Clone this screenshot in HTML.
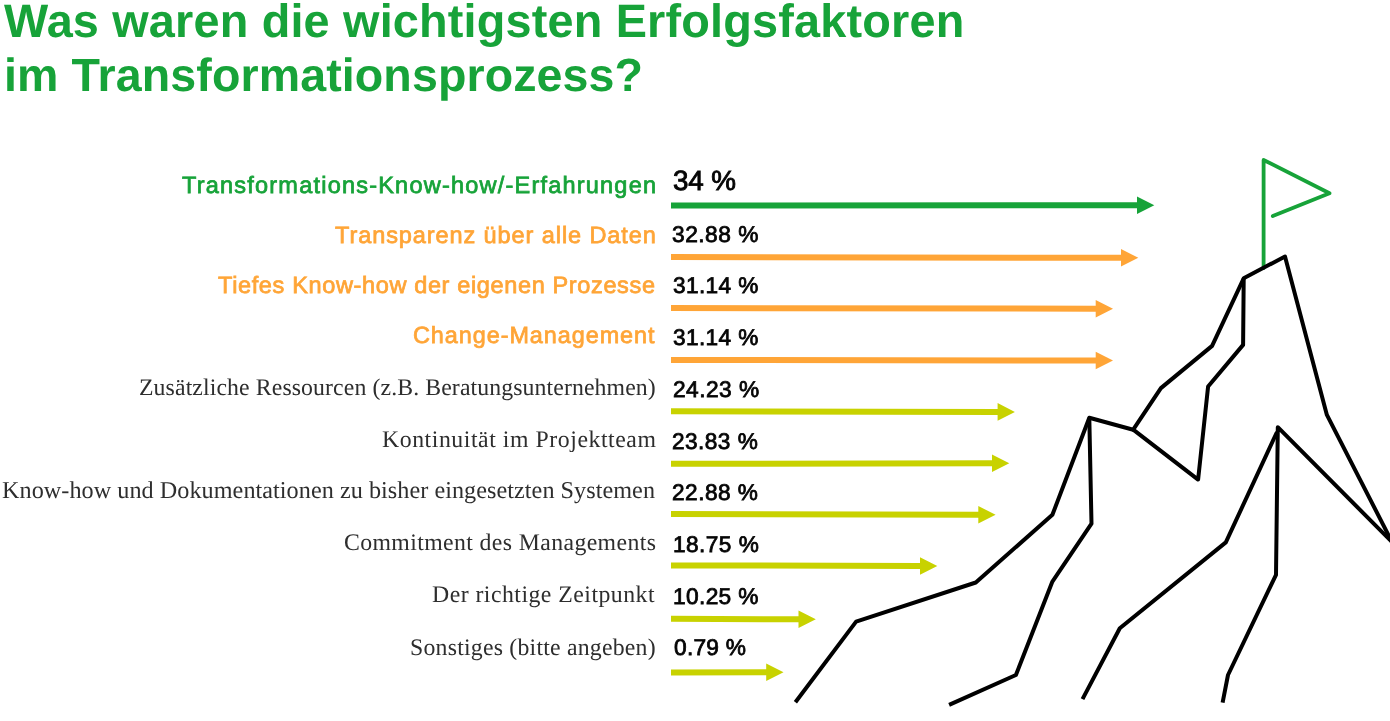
<!DOCTYPE html>
<html><head><meta charset="utf-8"><style>
html,body{margin:0;padding:0;background:#fff;width:1390px;height:721px;overflow:hidden}
.t{position:absolute;white-space:nowrap;line-height:1;transform-origin:0 0;text-rendering:geometricPrecision;will-change:transform}
svg{position:absolute;left:0;top:0}
</style></head><body>
<svg width="1390" height="721" viewBox="0 0 1390 721">
<path fill="#17a339" d="M671.0,202.50 L1137.00,202.30 L1137.00,196.50 L1154.30,205.30 L1137.00,214.10 L1137.00,208.30 L671.0,208.50 Z"/>
<path fill="#ffa537" d="M671.0,254.10 L1121.00,254.80 L1121.00,249.00 L1138.30,257.80 L1121.00,266.60 L1121.00,260.80 L671.0,260.10 Z"/>
<path fill="#ffa537" d="M671.0,305.00 L1095.70,305.70 L1095.70,299.90 L1113.00,308.70 L1095.70,317.50 L1095.70,311.70 L671.0,311.00 Z"/>
<path fill="#ffa537" d="M671.0,357.00 L1095.70,357.50 L1095.70,351.70 L1113.00,360.50 L1095.70,369.30 L1095.70,363.50 L671.0,363.00 Z"/>
<path fill="#c8d200" d="M671.0,408.30 L997.60,408.90 L997.60,403.10 L1014.90,411.90 L997.60,420.70 L997.60,414.90 L671.0,414.30 Z"/>
<path fill="#c8d200" d="M671.0,460.80 L992.00,460.20 L992.00,454.40 L1009.30,463.20 L992.00,472.00 L992.00,466.20 L671.0,466.80 Z"/>
<path fill="#c8d200" d="M671.0,510.90 L978.30,511.80 L978.30,506.00 L995.60,514.80 L978.30,523.60 L978.30,517.80 L671.0,516.90 Z"/>
<path fill="#c8d200" d="M671.0,562.40 L920.00,563.00 L920.00,557.20 L937.30,566.00 L920.00,574.80 L920.00,569.00 L671.0,568.40 Z"/>
<path fill="#c8d200" d="M671.0,615.70 L798.50,616.30 L798.50,610.50 L815.80,619.30 L798.50,628.10 L798.50,622.30 L671.0,621.70 Z"/>
<path fill="#c8d200" d="M671.0,669.60 L766.20,669.20 L766.20,663.40 L783.50,672.20 L766.20,681.00 L766.20,675.20 L671.0,675.60 Z"/>
<polyline fill="none" stroke="#17a339" stroke-width="3.8" stroke-linejoin="round" stroke-linecap="round" points="1263.6,268 1263.6,160 1329.5,193.3 1272.8,216.1"/>
<polyline fill="none" stroke="#000" stroke-width="4" stroke-linejoin="round" stroke-linecap="butt" points="795.4,702.2 856.1,621.6 975.8,582.5 1052.4,514.8 1089.3,417.8 1133.2,429.7 1160.9,388.1 1212.1,345.9 1243.7,278.3 1285,256.5 1326.9,414.9 1392,542"/>
<polyline fill="none" stroke="#000" stroke-width="4" stroke-linejoin="round" stroke-linecap="butt" points="1243.7,278.3 1243.1,344.9 1208.1,386.5 1198.1,479.6 1133.2,429.7"/>
<polyline fill="none" stroke="#000" stroke-width="4" stroke-linejoin="round" stroke-linecap="butt" points="1089.3,417.8 1091.5,523.7 1052.4,581.6 1015.9,675 949.1,704.9"/>
<polyline fill="none" stroke="#000" stroke-width="4" stroke-linejoin="round" stroke-linecap="butt" points="1082.5,699.1 1119.8,628.3 1225.8,542.4 1277,432"/>
<polyline fill="none" stroke="#000" stroke-width="4" stroke-linejoin="round" stroke-linecap="butt" points="1222.6,702.6 1228,675 1276,574.9 1277.8,427.2 1392,542"/>
</svg>
<div class="t" style="left:4.30px;top:-2.20px;font-family:'Liberation Sans',sans-serif;font-weight:700;font-size:46.84px;color:#17a339;letter-spacing:0.175px;">Was waren die wichtigsten Erfolgsfaktoren</div>
<div class="t" style="left:3.90px;top:51.80px;font-family:'Liberation Sans',sans-serif;font-weight:700;font-size:46.55px;color:#17a339;letter-spacing:0.108px;">im Transformationsprozess?</div>
<div class="t" style="left:181.90px;top:173.90px;font-family:'Liberation Sans',sans-serif;font-weight:400;font-size:23.52px;color:#17a339;letter-spacing:1.211px;-webkit-text-stroke:0.75px #17a339;">Transformations-Know-how/-Erfahrungen</div>
<div class="t" style="left:334.80px;top:224.10px;font-family:'Liberation Sans',sans-serif;font-weight:400;font-size:23.52px;color:#ffa537;letter-spacing:0.912px;-webkit-text-stroke:0.75px #ffa537;">Transparenz über alle Daten</div>
<div class="t" style="left:218.30px;top:274.00px;font-family:'Liberation Sans',sans-serif;font-weight:400;font-size:23.52px;color:#ffa537;letter-spacing:0.634px;-webkit-text-stroke:0.75px #ffa537;">Tiefes Know-how der eigenen Prozesse</div>
<div class="t" style="left:413.10px;top:323.80px;font-family:'Liberation Sans',sans-serif;font-weight:400;font-size:23.39px;color:#ffa537;letter-spacing:0.962px;-webkit-text-stroke:0.75px #ffa537;">Change-Management</div>
<div class="t" style="left:139.00px;top:377.30px;font-family:'Liberation Serif',serif;font-weight:400;font-size:23.77px;color:#2e2e2e;letter-spacing:0.108px;">Zusätzliche Ressourcen (z.B. Beratungsunternehmen)</div>
<div class="t" style="left:381.90px;top:428.80px;font-family:'Liberation Serif',serif;font-weight:400;font-size:23.77px;color:#2e2e2e;letter-spacing:0.556px;">Kontinuität im Projektteam</div>
<div class="t" style="left:2.00px;top:479.10px;font-family:'Liberation Serif',serif;font-weight:400;font-size:24.2px;color:#2e2e2e;letter-spacing:0.047px;">Know-how und Dokumentationen zu bisher eingesetzten Systemen</div>
<div class="t" style="left:343.70px;top:532.20px;font-family:'Liberation Serif',serif;font-weight:400;font-size:23.77px;color:#2e2e2e;letter-spacing:0.384px;">Commitment des Managements</div>
<div class="t" style="left:432.30px;top:584.40px;font-family:'Liberation Serif',serif;font-weight:400;font-size:23.78px;color:#2e2e2e;letter-spacing:0.476px;">Der richtige Zeitpunkt</div>
<div class="t" style="left:409.90px;top:636.90px;font-family:'Liberation Serif',serif;font-weight:400;font-size:23.78px;color:#2e2e2e;letter-spacing:0.225px;">Sonstiges (bitte angeben)</div>
<div class="t" style="left:672.60px;top:166.60px;font-family:'Liberation Sans',sans-serif;font-weight:400;font-size:27.8px;color:#050505;letter-spacing:-0.100px;-webkit-text-stroke:0.9px #050505;">34 %</div>
<div class="t" style="left:672.30px;top:222.60px;font-family:'Liberation Sans',sans-serif;font-weight:400;font-size:22.73px;color:#050505;letter-spacing:0.500px;-webkit-text-stroke:0.8px #050505;">32.88 %</div>
<div class="t" style="left:672.50px;top:275.33px;font-family:'Liberation Sans',sans-serif;font-weight:400;font-size:22.61px;color:#050505;letter-spacing:0.383px;-webkit-text-stroke:0.8px #050505;">31.14 %</div>
<div class="t" style="left:672.50px;top:327.06px;font-family:'Liberation Sans',sans-serif;font-weight:400;font-size:22.61px;color:#050505;letter-spacing:0.383px;-webkit-text-stroke:0.8px #050505;">31.14 %</div>
<div class="t" style="left:672.50px;top:377.79px;font-family:'Liberation Sans',sans-serif;font-weight:400;font-size:22.73px;color:#050505;letter-spacing:0.467px;-webkit-text-stroke:0.8px #050505;">24.23 %</div>
<div class="t" style="left:672.20px;top:430.52px;font-family:'Liberation Sans',sans-serif;font-weight:400;font-size:22.61px;color:#050505;letter-spacing:0.467px;-webkit-text-stroke:0.8px #050505;">23.83 %</div>
<div class="t" style="left:672.30px;top:482.25px;font-family:'Liberation Sans',sans-serif;font-weight:400;font-size:22.61px;color:#050505;letter-spacing:0.500px;-webkit-text-stroke:0.8px #050505;">22.88 %</div>
<div class="t" style="left:672.50px;top:533.98px;font-family:'Liberation Sans',sans-serif;font-weight:400;font-size:22.61px;color:#050505;letter-spacing:0.467px;-webkit-text-stroke:0.8px #050505;">18.75 %</div>
<div class="t" style="left:673.20px;top:584.71px;font-family:'Liberation Sans',sans-serif;font-weight:400;font-size:22.73px;color:#050505;letter-spacing:0.350px;-webkit-text-stroke:0.8px #050505;">10.25 %</div>
<div class="t" style="left:673.70px;top:636.44px;font-family:'Liberation Sans',sans-serif;font-weight:400;font-size:22.73px;color:#050505;letter-spacing:0.260px;-webkit-text-stroke:0.8px #050505;">0.79 %</div>
</body></html>
